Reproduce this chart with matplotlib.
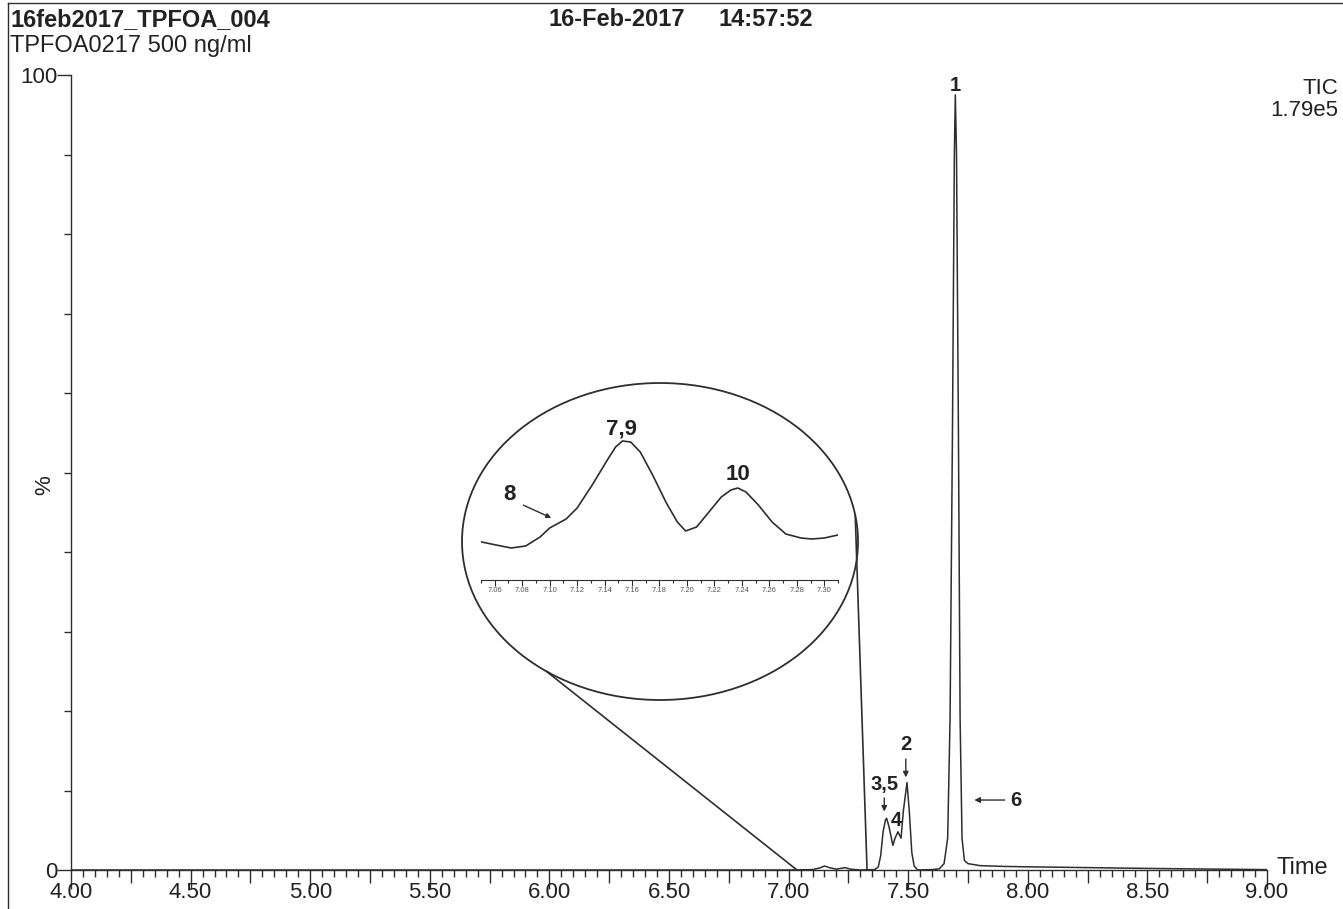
import numpy as np
import matplotlib
matplotlib.use("Agg")
from matplotlib import pyplot as plt
from matplotlib.patches import Ellipse, ConnectionPatch
from matplotlib.ticker import MultipleLocator, FixedLocator

plt.rcParams['font.family'] = ['Liberation Sans', 'DejaVu Sans']

# TIC trace, % of base peak
main_time = [4.00, 5.00, 6.00, 7.00, 7.10, 7.13, 7.15, 7.17, 7.20, 7.235, 7.26, 7.30,
             7.36, 7.375, 7.385, 7.395, 7.405, 7.41, 7.42, 7.436, 7.445, 7.457, 7.47,
             7.48, 7.495, 7.505, 7.515, 7.525, 7.54, 7.60, 7.63, 7.65, 7.665, 7.675,
             7.685, 7.693, 7.697, 7.702, 7.71, 7.717, 7.725, 7.735, 7.75, 7.80, 7.90,
             8.00, 8.25, 8.50, 8.75, 9.00]
main_pct = [0.0, 0.0, 0.0, 0.0, 0.05, 0.25, 0.5, 0.3, 0.1, 0.3, 0.1, 0.0,
            0.05, 0.4, 1.8, 4.8, 6.3, 6.5, 5.4, 3.1, 4.0, 4.8, 4.0,
            7.5, 11.0, 7.2, 2.2, 0.5, 0.0, 0.05, 0.15, 0.8, 4.0, 19.0,
            55.0, 90.0, 97.5, 90.0, 55.0, 19.0, 4.0, 1.2, 0.8, 0.55, 0.45,
            0.4, 0.3, 0.2, 0.12, 0.05]

# zoomed part 7.05 - 7.31 min (relative units)
inset_time = [7.0505, 7.061, 7.072, 7.0825, 7.093, 7.1, 7.112, 7.12, 7.131, 7.142,
              7.148, 7.153, 7.159, 7.166, 7.175, 7.185, 7.193, 7.199, 7.207, 7.216,
              7.225, 7.232, 7.237, 7.243, 7.252, 7.262, 7.272, 7.283, 7.291, 7.30, 7.31]
inset_val = [38, 35, 32, 34, 43, 52, 61, 72, 95, 120,
             133, 139, 138, 128, 105, 77, 58, 49, 53, 68,
             83, 90, 92, 88, 75, 58, 46, 42, 41, 42, 45]

peak_labels = ["1", "2", "3,5", "4", "6"]
inset_labels = ["7,9", "10", "8"]

W, H = 1343, 909
ink = "#2e2e2e"
txt = "#222222"

fig = plt.figure(figsize=(W / 100, H / 100), dpi=100)

def px(x, y, w=0, h=0):
    return [x / W, 1 - (y + h) / H, w / W, h / H]

# main chromatogram
ax = fig.add_axes(px(71, 75, 1196, 795))
ax.plot(main_time, main_pct, color=ink, lw=1.1)
ax.set_xlim(4.0, 9.0)
ax.set_ylim(0, 100)
for s in ["top", "right"]:
    ax.spines[s].set_visible(False)
for s in ["left", "bottom"]:
    ax.spines[s].set_color(ink)
    ax.spines[s].set_linewidth(1.0)

quarters = np.arange(4.0, 9.01, 0.25)
is_half = [abs(t * 2 - round(t * 2)) < 1e-6 for t in quarters]
ax.set_xticks(quarters)
ax.set_xticklabels(["%.2f" % t if h else "" for t, h in zip(quarters, is_half)])
ax.xaxis.set_minor_locator(MultipleLocator(0.05))
ax.tick_params(axis="x", which="major", direction="out", length=9, width=1, color=ink,
               labelsize=16, labelcolor=txt, pad=0)
ax.tick_params(axis="x", which="minor", direction="out", length=5, width=1, color=ink)
for h, tick in zip(is_half, ax.xaxis.get_major_ticks()):
    if h:
        tick.tick1line.set_markersize(14)

ax.set_yticks([0, 100])
ax.set_yticklabels(["0", "100"])
ax.yaxis.set_minor_locator(FixedLocator(np.arange(10, 100, 10)))
ax.tick_params(axis="y", which="major", direction="out", length=10, width=1, color=ink,
               labelsize=16, labelcolor=txt, pad=0)
ax.tick_params(axis="y", which="minor", direction="out", length=5, width=1, color=ink)
fig.text(45 / W, 1 - 485 / H, "%", fontsize=16, color=txt, rotation=90,
         ha="center", va="center")

ax.text(9.04, 0.3, "Time", fontsize=17, color=txt, ha="left", va="center")

# peak numbers
bold = dict(fontsize=14.5, fontweight="bold", color=txt, ha="center")
ax.text(7.696, 98.7, peak_labels[0], va="center", **bold)
ax.text(7.49, 14.6, peak_labels[1], va="bottom", **bold)
ax.annotate("", xy=(7.49, 11.3), xytext=(7.49, 14.3),
            arrowprops=dict(arrowstyle="-|>", color=ink, lw=1, mutation_scale=8))
ax.text(7.40, 9.6, peak_labels[2], va="bottom", **bold)
ax.annotate("", xy=(7.40, 7.0), xytext=(7.40, 9.4),
            arrowprops=dict(arrowstyle="-|>", color=ink, lw=1, mutation_scale=8))
ax.text(7.452, 6.2, peak_labels[3], va="center", **bold)
ax.text(7.925, 8.8, peak_labels[4], va="center", ha="left", fontsize=14.5,
        fontweight="bold", color=txt)
ax.annotate("", xy=(7.765, 8.8), xytext=(7.915, 8.8),
            arrowprops=dict(arrowstyle="-|>", color=ink, lw=1, mutation_scale=8))

# magnifier circle
cx, cy, ew, eh = 660, 541.5, 396, 317
ell = Ellipse((cx / W, 1 - cy / H), ew / W, eh / H, transform=fig.transFigure,
              fill=False, edgecolor=ink, lw=1.3, zorder=1)
fig.patches.append(ell)

def ell_pt(deg):
    a = np.deg2rad(deg)
    return (cx + ew / 2 * np.cos(a)) / W, 1 - (cy - eh / 2 * np.sin(a)) / H

for deg, t0 in [(235, 7.035), (9.6, 7.328)]:
    con = ConnectionPatch(xyA=ell_pt(deg), coordsA=fig.transFigure,
                          xyB=(t0, 0), coordsB=ax.transData, color=ink, lw=1.2)
    fig.add_artist(con)

# inset trace
ins = fig.add_axes(px(481, 430, 357, 150))
ins.patch.set_alpha(0)
ins.plot(inset_time, inset_val, color=ink, lw=1.2)
ins.set_xlim(7.05, 7.31)
ins.set_ylim(0, 150)
for s in ["top", "right", "left"]:
    ins.spines[s].set_visible(False)
ins.spines["bottom"].set_color(ink)
ins.set_yticks([])
ins.set_xticks(np.arange(7.06, 7.301, 0.02))
ins.set_xticklabels(["%.2f" % t for t in np.arange(7.06, 7.301, 0.02)])
ins.xaxis.set_minor_locator(MultipleLocator(0.01))
ins.tick_params(axis="x", which="major", length=4, width=0.8, color=ink,
                labelsize=5.5, labelcolor="#555555", pad=1)
ins.tick_params(axis="x", which="minor", length=2.5, width=0.8, color=ink)

ib = dict(fontsize=16, fontweight="bold", color=txt, ha="center", va="bottom")
ins.text(7.152, 141, inset_labels[0], clip_on=False, **ib)
ins.text(7.237, 95, inset_labels[1], **ib)
ins.text(7.0705, 75, inset_labels[2], **ib)
ins.annotate("", xy=(7.103, 61), xytext=(7.079, 76),
             arrowprops=dict(arrowstyle="-|>", color=ink, lw=1, mutation_scale=7))

# header
hb = dict(fontsize=17, fontweight="bold", color=txt, va="center")
fig.text(10 / W, 1 - 20 / H, "16feb2017_TPFOA_004", **hb)
fig.text(10 / W, 1 - 46 / H, "TPFOA0217 500 ng/ml", fontsize=17, color=txt, va="center")
fig.text(548 / W, 1 - 20 / H, "16-Feb-2017", **hb)
fig.text(718 / W, 1 - 20 / H, "14:57:52", **hb)
fig.text(1338 / W, 1 - 88 / H, "TIC", fontsize=16, color=txt, va="center", ha="right")
fig.text(1338 / W, 1 - 111 / H, "1.79e5", fontsize=16, color=txt, va="center", ha="right")

# page frame
fig.add_artist(plt.Line2D([8 / W, 8 / W], [0, 1 - 3 / H], transform=fig.transFigure, color=ink, lw=1))
fig.add_artist(plt.Line2D([8 / W, 1], [1 - 3 / H, 1 - 3 / H], transform=fig.transFigure, color=ink, lw=1))

fig.savefig("out.png", dpi=100)
